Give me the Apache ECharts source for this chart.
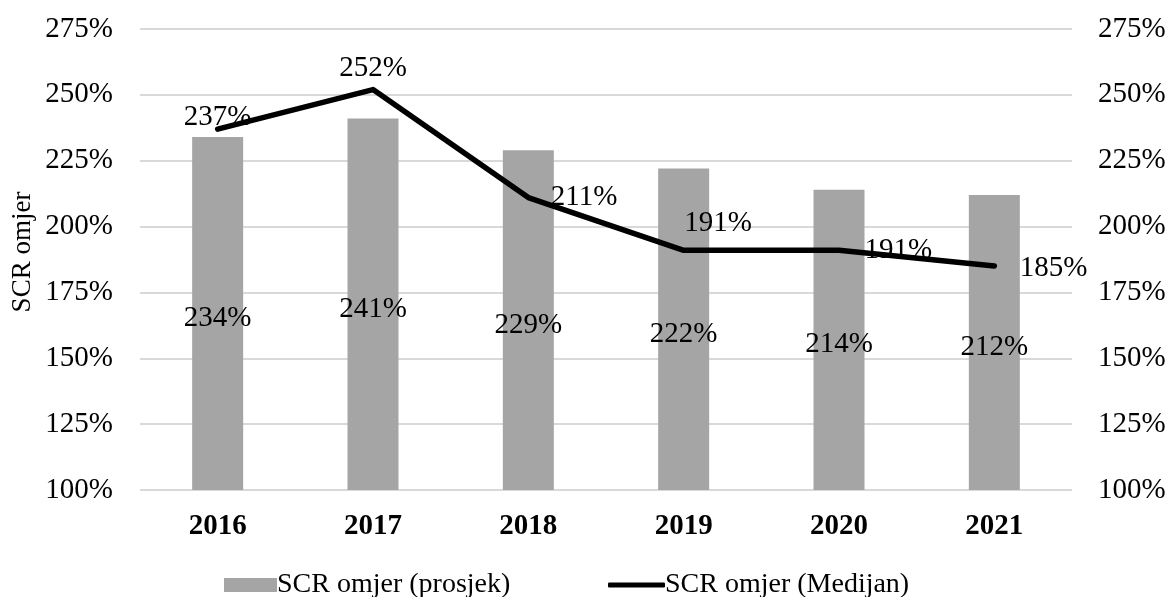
<!DOCTYPE html>
<html>
<head>
<meta charset="utf-8">
<script src="https://cdn.jsdelivr.net/npm/echarts@6/dist/echarts.min.js"></script>
<style>html,body{margin:0;padding:0;background:#fff}#c{width:1175px;height:597px}</style>
</head>
<body>
<div id="c"></div>
<script>
var categories = ['2016', '2017', '2018', '2019', '2020', '2021'];
var avgValues = [234, 241, 229, 222, 214, 212];
var medianValues = [237, 252, 211, 191, 191, 185];
var seriesNames = ['SCR omjer (prosjek)', 'SCR omjer (Medijan)'];
var axisName = 'SCR omjer';

var FONT = '"Liberation Serif", "Times New Roman", serif';
var FS = 29;
var medianLabelCfg = [
  { position: 'top', distance: -3, offset: [0, 0] },
  { position: 'top', distance: 6, offset: [0, 0] },
  { position: 'right', distance: 22, offset: [0, 0] },
  { position: 'right', distance: 0, offset: [0, -27] },
  { position: 'right', distance: 25, offset: [0, 0] },
  { position: 'right', distance: 25, offset: [0, 2] }
];
var medianData = medianValues.map(function (v, i) {
  return { value: v, label: medianLabelCfg[i] };
});

var chart = echarts.init(document.getElementById('c'), null, { renderer: 'canvas' });
var yAxisCommon = {
  type: 'value', min: 100, max: 275, interval: 25,
  axisLabel: { formatter: '{value}%', color: '#000', fontFamily: FONT, fontSize: FS },
  axisLine: { show: false }, axisTick: { show: false }
};
chart.setOption({
  animation: false,
  textStyle: { fontFamily: FONT },
  grid: { left: 140, right: 103, top: 29, bottom: 107, containLabel: false, outerBoundsMode: 'none' },
  graphic: [{
    type: 'text', x: 23, y: 252, rotation: Math.PI / 2,
    style: { text: axisName, fontFamily: FONT, fontSize: 27, fill: '#000', align: 'center', verticalAlign: 'middle' }
  }],
  legend: [
    {
      data: [{ name: seriesNames[0], icon: 'rect' }],
      left: 219, top: 566, itemWidth: 53, itemHeight: 14, itemGap: 4,
      textStyle: { fontFamily: FONT, fontSize: 28, color: '#000', padding: [0, 0, 0, -5] }
    },
    {
      data: [{ name: seriesNames[1], icon: 'roundRect', itemStyle: { color: '#000' } }],
      left: 603, top: 566, itemWidth: 57, itemHeight: 5, itemGap: 4,
      textStyle: { fontFamily: FONT, fontSize: 28, color: '#000', padding: [0, 0, 0, -5] }
    }
  ],
  xAxis: {
    type: 'category', data: categories,
    axisLine: { show: false }, axisTick: { show: false },
    axisLabel: { color: '#000', fontFamily: FONT, fontSize: FS, fontWeight: 'bold', margin: 22 }
  },
  yAxis: [
    Object.assign({}, yAxisCommon, {
      axisLabel: Object.assign({}, yAxisCommon.axisLabel, { margin: 27 }),
      splitLine: { show: true, lineStyle: { color: '#d9d9d9', width: 2 } }
    }),
    Object.assign({}, yAxisCommon, {
      position: 'right',
      axisLabel: Object.assign({}, yAxisCommon.axisLabel, { margin: 26 }),
      splitLine: { show: false }
    })
  ],
  series: [
    {
      name: seriesNames[0], type: 'bar', data: avgValues, yAxisIndex: 0,
      barWidth: 51,
      itemStyle: { color: '#a5a5a5' },
      label: { show: true, position: 'inside', offset: [0, 5], formatter: '{c}%', color: '#000', fontFamily: FONT, fontSize: FS }
    },
    {
      name: seriesNames[1], type: 'line', data: medianData, yAxisIndex: 1,
      symbol: 'circle', symbolSize: 1, z: 3,
      itemStyle: { color: '#000' },
      lineStyle: { color: '#000', width: 5.5, cap: 'round', join: 'round' },
      label: { show: true, formatter: '{c}%', color: '#000', fontFamily: FONT, fontSize: FS }
    }
  ]
});
</script>
</body>
</html>
